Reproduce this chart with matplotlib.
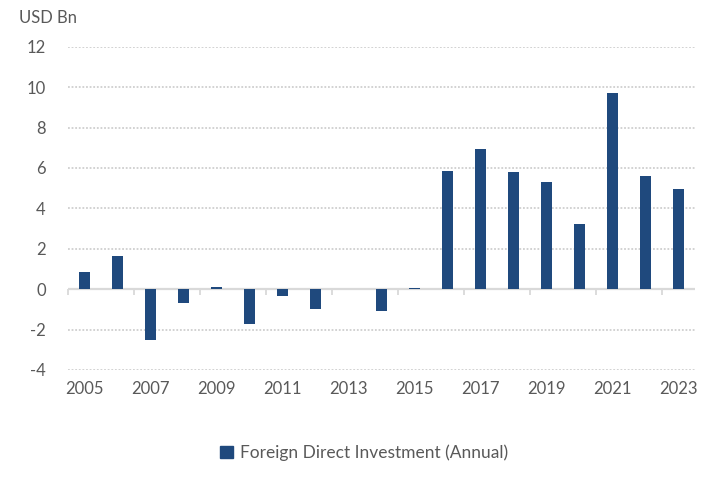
import matplotlib
matplotlib.use("Agg")
import matplotlib.pyplot as plt
from matplotlib.patches import Patch

years = list(range(2005, 2024))
fdi = [0.83, 1.62, -2.50, -0.66, 0.13, -1.70, -0.36, -1.00, 0.0, -1.06,
       0.08, 5.83, 6.93, 5.79, 5.29, 3.21, 9.70, 5.59, 4.94]
yticks = [-4, -2, 0, 2, 4, 6, 8, 10, 12]
series_name = "Foreign Direct Investment (Annual)"
unit_label = "USD Bn"

bar_color = "#1F497D"
text_color = "#595959"
plt.rcParams['font.family'] = ['Lato', 'DejaVu Sans']

fig = plt.figure(figsize=(7.21, 4.84), dpi=100)
ax = fig.add_axes([68/721, 1-370/484, (695-68)/721, (370-46.7)/484])

x = list(range(len(years)))
ax.bar(x, fdi, width=0.34, color=bar_color, zorder=3)

ax.set_xlim(-0.5, len(years) - 0.5)
ax.set_ylim(-4, 12)
ax.set_yticks(yticks)
ax.set_yticklabels([str(v) for v in yticks])
ax.grid(axis='y', color='#CFCFCF', linestyle=(0, (1, 1)), linewidth=1.3, zorder=0)
ax.axhline(0, color='#D9D9D9', linewidth=1.6, zorder=2)
for s in ax.spines.values():
    s.set_visible(False)
ax.tick_params(axis='y', length=0, pad=16, labelsize=12, labelcolor=text_color)

ax.set_xticks(x[::2])
ax.set_xticklabels([str(y) for y in years[::2]])
ax.tick_params(axis='x', length=0, pad=8, labelsize=12, labelcolor=text_color)

sec = ax.secondary_xaxis(0, transform=ax.transData)
sec.set_xticks([i - 0.5 for i in range(0, len(years), 2)])
sec.set_xticklabels([])
sec.tick_params(axis='x', direction='out', length=4, color='#D9D9D9', width=1.3)
sec.spines['bottom'].set_visible(False)

fig.text(19/721, 1-18/484, unit_label, ha='left', va='center', fontsize=12, color=text_color)

handle = Patch(facecolor=bar_color, edgecolor=bar_color)
fig.legend([handle], [series_name], loc='center', bbox_to_anchor=(0.505, 1-453/484),
           frameon=False, fontsize=12.5, labelcolor=text_color,
           handlelength=0.7, handleheight=0.7, handletextpad=0.4)

fig.savefig("out.png", dpi=100)
